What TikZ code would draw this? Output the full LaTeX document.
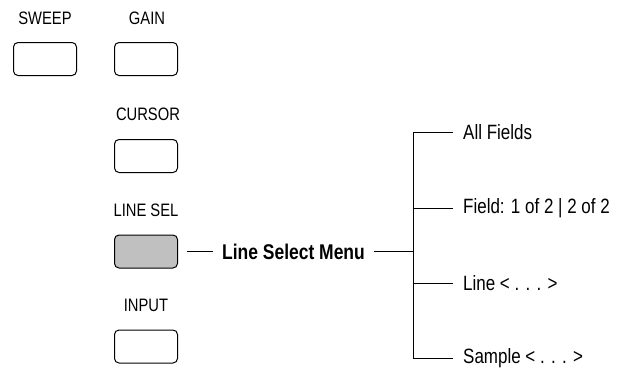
\documentclass[tikz,border=0pt]{standalone}
\usepackage{fontspec}
\setmainfont{Liberation Sans}[FakeStretch=0.82]
\definecolor{btngray}{RGB}{192,192,192}
\begin{document}
\begin{tikzpicture}[x=1pt,y=-1pt,
  btn/.style={draw=black, line width=1pt, rounded corners=4.5pt, minimum width=63pt, minimum height=33pt, inner sep=0pt},
  lbl/.style={font=\fontsize{18}{21}\selectfont, inner sep=0pt},
  item/.style={font=\fontsize{20.7}{24}\selectfont, anchor=west, inner xsep=10pt, inner ysep=0pt},
  conn/.style={line width=1pt}]
\useasboundingbox (0,0) rectangle (618,375);
% labels
\node[lbl] (lsweep) at (45,18) {SWEEP};
\node[lbl] (lgain) at (147,18) {GAIN};
\node[lbl] (lcursor) at (148,114) {CURSOR};
\node[lbl] (llinesel) at (146,210) {LINE SEL};
\node[lbl] (linput) at (146,305) {INPUT};
% buttons
\node[btn] (bsweep) at (45,59) {};
\node[btn] (bgain) at (146,59) {};
\node[btn] (bcursor) at (146,156) {};
\node[btn, fill=btngray] (blinesel) at (146,251.5) {};
\node[btn] (binput) at (146,346.5) {};
% menu
\node[font=\bfseries\fontsize{21.3}{25}\selectfont, inner xsep=8.5pt, inner ysep=0pt] (menu) at (293.5,251.5) {Line Select Menu};
\coordinate (j) at (413,251.5);
\node[item] (allf) at (453,132) {All Fields};
\node[item] (field) at (453,208) {Field: 1 of 2 | 2 of 2};
\node[item] (line) at (453,283) {Line < . . . >};
\node[item] (sample) at (453,358) {Sample < . . . >};
\draw[conn] ([xshift=9pt]blinesel.east) -- (menu.west);
\draw[conn] (menu.east) -- (j);
\draw[conn] (j) |- (allf.west);
\draw[conn] (j) |- (field.west);
\draw[conn] (j) |- (line.west);
\draw[conn] (j) |- (sample.west);
\end{tikzpicture}
\end{document}
